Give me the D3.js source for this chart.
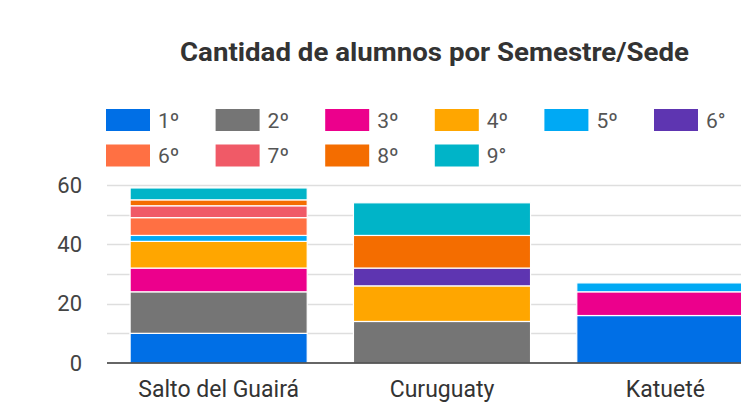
<!DOCTYPE html>
<html>
<head>
<meta charset="utf-8">
<script src="https://cdn.jsdelivr.net/npm/d3@7"></script>
<style>
  body { margin: 0; background: #fff; }
  svg { display: block; font-family: Roboto, "Noto Sans", sans-serif; }
</style>
</head>
<body>
<div id="chart"></div>
<script>
// data
const sedes = ["Salto del Guairá", "Curuguaty", "Katueté"];
const seriesKeys = ["s1", "s2", "s3", "s4", "s5", "s6a", "s6b", "s7", "s8", "s9"];
const seriesLabels = ["1º", "2º", "3º", "4º", "5º", "6°", "6º", "7º", "8º", "9°"];
const seriesColors = ["#006fe6", "#757575", "#ec008c", "#ffa600", "#00a9f4",
                      "#5e35b1", "#ff7043", "#f05a67", "#f46d00", "#00b4c8"];
const s1 = [10, 0, 16];
const s2 = [14, 14, 0];
const s3 = [8, 0, 8];
const s4 = [9, 12, 0];
const s5 = [2, 0, 3];
const s6a = [0, 6, 0];
const s6b = [6, 0, 0];
const s7 = [4, 0, 0];
const s8 = [2, 11, 0];
const s9 = [4, 11, 0];
const yTicks = [0, 20, 40, 60];
const yGrid = [10, 20, 30, 40, 50, 60];

const seriesValues = {s1, s2, s3, s4, s5, s6a, s6b, s7, s8, s9};

const width = 741, height = 408;
const margin = {top: 185, left: 107, bottom: 45};
const plotRight = 777; // chart runs past the window edge

const table = sedes.map((sede, i) => {
    const row = {sede};
    seriesKeys.forEach(k => { row[k] = seriesValues[k][i]; });
    return row;
});

const svg = d3.select("#chart").append("svg")
    .attr("width", width)
    .attr("height", height);

const x = d3.scaleBand()
    .domain(sedes)
    .range([margin.left, plotRight])
    .paddingInner(0.207)
    .paddingOuter(0.1035);

const y = d3.scaleLinear()
    .domain([0, 60])
    .range([height - margin.bottom, margin.top]);

const color = d3.scaleOrdinal().domain(seriesKeys).range(seriesColors);

// title
svg.append("text")
    .attr("x", 434.5)
    .attr("y", 61)
    .attr("text-anchor", "middle")
    .attr("font-size", 25)
    .attr("font-weight", "bold")
    .attr("fill", "#333")
    .attr("textLength", 509)
    .attr("lengthAdjust", "spacingAndGlyphs")
    .text("Cantidad de alumnos por Semestre/Sede");

// legend
const legend = svg.append("g").attr("class", "legend");
seriesKeys.forEach((k, i) => {
    const col = i < 6 ? i : i - 6;
    const row = i < 6 ? 0 : 1;
    const g = legend.append("g")
        .attr("transform", `translate(${106 + col * 109.6},${109 + row * 35.5})`);
    g.append("rect")
        .attr("width", 44)
        .attr("height", 22)
        .attr("fill", color(k));
    g.append("text")
        .attr("x", 52)
        .attr("y", 11)
        .attr("dy", "0.36em")
        .attr("font-size", 21)
        .attr("fill", "#555")
        .text(seriesLabels[i]);
});

// grid lines
svg.append("g").attr("class", "grid")
    .selectAll("line")
    .data(yGrid)
    .join("line")
    .attr("x1", margin.left)
    .attr("x2", width)
    .attr("y1", d => Math.round(y(d)) + 0.5)
    .attr("y2", d => Math.round(y(d)) + 0.5)
    .attr("stroke", "#dedede")
    .attr("stroke-width", 1.5);

// y axis labels only
const yAxis = d3.axisLeft(y).tickValues(yTicks).tickSize(0).tickPadding(0);
const yAxisG = svg.append("g")
    .attr("transform", `translate(82,0)`)
    .call(yAxis);
yAxisG.select(".domain").remove();
yAxisG.selectAll("text")
    .attr("font-size", 22)
    .attr("font-family", "Roboto, sans-serif")
    .attr("fill", "#444");

// stacked bars
const stacked = d3.stack().keys(seriesKeys)(table);
svg.append("g").attr("class", "bars")
    .selectAll("g")
    .data(stacked)
    .join("g")
    .attr("fill", d => color(d.key))
    .selectAll("rect")
    .data(d => d.filter(s => s[1] > s[0]))
    .join("rect")
    .attr("x", d => x(d.data.sede))
    .attr("width", x.bandwidth())
    .attr("y", d => y(d[1]))
    .attr("height", d => y(d[0]) - y(d[1]))
    .attr("stroke", "#fff")
    .attr("stroke-width", 1.2);

// baseline
svg.append("line")
    .attr("x1", margin.left)
    .attr("x2", width)
    .attr("y1", y(0))
    .attr("y2", y(0))
    .attr("stroke", "#333")
    .attr("stroke-width", 1.5);

// x axis labels
const xAxis = d3.axisBottom(x).tickSize(0).tickPadding(0);
const xAxisG = svg.append("g")
    .attr("transform", `translate(0,${y(0) + 18})`)
    .call(xAxis);
xAxisG.select(".domain").remove();
xAxisG.selectAll("text")
    .attr("font-size", 23)
    .attr("font-family", "Roboto, sans-serif")
    .attr("fill", "#333");
</script>
</body>
</html>
